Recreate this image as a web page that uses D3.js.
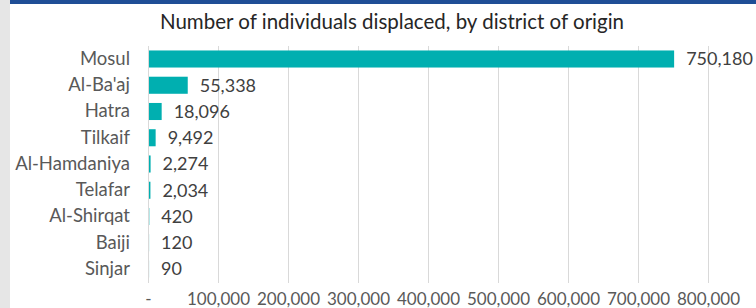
<!DOCTYPE html>
<html>
<head>
<meta charset="utf-8">
<script src="https://cdn.jsdelivr.net/npm/d3@7"></script>
<style>
  body { margin: 0; background: #fff; }
  text { font-family: Lato, "Open Sans", sans-serif; }
</style>
</head>
<body>
<script>
// districts and displaced counts
const districts = ['Mosul', "Al-Ba'aj", 'Hatra', 'Tilkaif', 'Al-Hamdaniya', 'Telafar', 'Al-Shirqat', 'Baiji', 'Sinjar']
const displaced = [750180, 55338, 18096, 9492, 2274, 2034, 420, 120, 90]
const xTicks = [0, 100000, 200000, 300000, 400000, 500000, 600000, 700000, 800000]
const title = 'Number of individuals displaced, by district of origin'

const width = 756
const height = 308

const svg = d3.select('body')
    .append('svg')
    .attr('width', width)
    .attr('height', height)

// grey strip on the left and blue band on top
svg.append('rect').attr('x', 0).attr('y', 0).attr('width', 10).attr('height', height).attr('fill', '#e6e6e6')
svg.append('rect').attr('x', 10).attr('y', 0).attr('width', width - 10).attr('height', 4).attr('fill', '#1f4e96')

svg.append('text')
    .attr('x', 392)
    .attr('y', 29)
    .attr('text-anchor', 'middle')
    .attr('font-size', 20.5)
    .attr('fill', '#262626')
    .text(title)

let xScale = d3.scaleLinear()
    .domain([0, 800000])
    .range([148, 708])
let yScale = d3.scaleBand()
    .domain(districts)
    .range([46, 282])
    .paddingInner(0.35)
    .paddingOuter(0.17)

// vertical gridlines
svg.append('g')
    .selectAll('line')
    .data(xTicks)
    .enter().append('line')
    .attr('x1', d => xScale(d) + 0.5)
    .attr('x2', d => xScale(d) + 0.5)
    .attr('y1', 46)
    .attr('y2', 283)
    .attr('stroke', '#d9d9d9')
    .attr('stroke-width', 1)

// x axis labels
let x_axis = d3.axisBottom(xScale)
    .tickValues(xTicks)
    .tickSize(0)
    .tickPadding(0)
    .tickFormat(d => d === 0 ? '-' : d3.format(',')(d))
let gx = svg.append('g')
    .attr('transform', 'translate(0,293)')
    .call(x_axis)
gx.select('.domain').remove()
gx.selectAll('text')
    .attr('font-size', 17)
    .attr('font-family', 'Lato, sans-serif')
    .attr('fill', '#595959')

// category labels
let y_axis = d3.axisLeft(yScale)
    .tickSize(0)
    .tickPadding(0)
let gy = svg.append('g')
    .attr('transform', 'translate(130,0)')
    .call(y_axis)
gy.select('.domain').remove()
gy.selectAll('text')
    .attr('font-size', 18.5)
    .attr('font-family', 'Lato, sans-serif')
    .attr('fill', '#595959')

// bars
svg.selectAll('.bar')
    .data(displaced)
    .enter().append('rect')
    .attr('class', 'bar')
    .attr('fill', '#00afb0')
    .attr('x', xScale(0) + 1)
    .attr('y', (d, i) => yScale(districts[i]))
    .attr('width', d => xScale(d) - xScale(0))
    .attr('height', yScale.bandwidth())

// value labels
svg.selectAll('.val')
    .data(displaced)
    .enter().append('text')
    .attr('class', 'val')
    .attr('x', d => xScale(d) + 13)
    .attr('y', (d, i) => yScale(districts[i]) + yScale.bandwidth() / 2)
    .attr('dy', '0.35em')
    .attr('font-size', 18)
    .attr('fill', '#404040')
    .text(d => d3.format(',')(d))
</script>
</body>
</html>
